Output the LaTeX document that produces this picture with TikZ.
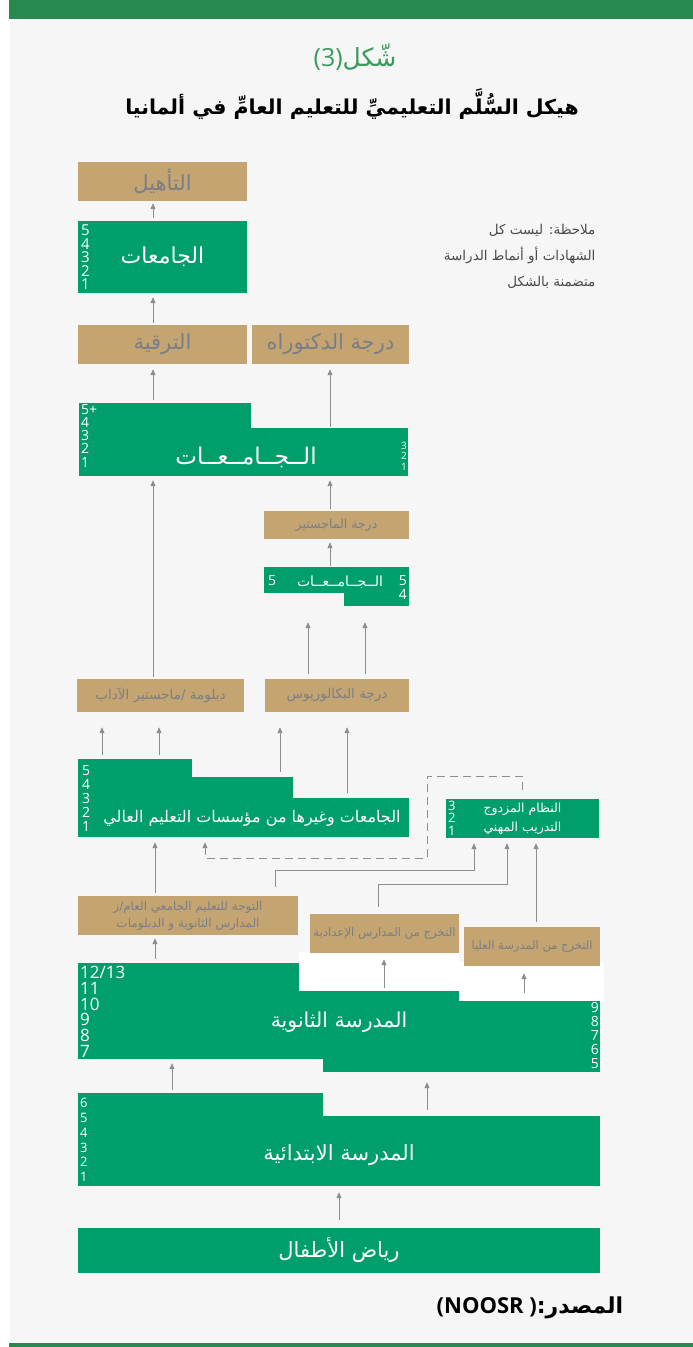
\documentclass[tikz,border=0pt]{standalone}
\usepackage{fontspec}
\usetikzlibrary{arrows.meta}
\TeXXeTstate=1
\newfontfamily\arabicfont[Script=Arabic]{DejaVu Sans}
\newfontfamily\numfont{Open Sans}
\newcommand{\artxt}[1]{{\arabicfont\beginR #1\endR}}
\definecolor{pagegrey}{HTML}{F6F6F6}
\definecolor{bargreen}{HTML}{288A4F}
\definecolor{titlegreen}{HTML}{3C9A5C}
\definecolor{unigreen}{HTML}{009E6B}
\definecolor{tan}{HTML}{C4A571}
\definecolor{tantext}{HTML}{7A7E86}
\definecolor{arrowgrey}{HTML}{8E8E8E}
\definecolor{notegrey}{HTML}{4A4A4A}
\begin{document}
\begin{tikzpicture}[x=1pt, y=-1pt,
	gbox/.style={fill=unigreen, text=white, inner sep=0pt},
	tbox/.style={fill=tan, text=tantext, inner sep=0pt},
	wbox/.style={fill=white, inner sep=0pt},
	nums/.style={text=white, inner sep=0pt, align=left, anchor=north west},
	numsr/.style={text=white, inner sep=0pt, align=right, anchor=north east},
	arr/.style={draw=arrowgrey, line width=1pt, -{Triangle[length=6pt,width=5pt]}},
	dasharr/.style={arr, dash pattern=on 8pt off 5pt}]
	\useasboundingbox (0,0) rectangle (693,1347);
	\fill[white] (0,0) rectangle (693,1347);
	\fill[pagegrey] (10,19) rectangle (693,1343);
	\fill[bargreen] (9,0) rectangle (693,19);
	\fill[bargreen] (9,1343) rectangle (693,1347);

	\node (fig) at (355,57) [text=titlegreen, font=\fontsize{25}{25}\selectfont] {{\numfont(3)}\artxt{شّكل}};
	\node (head) at (352,104) [font=\bfseries\fontsize{20.5}{20.5}\selectfont] {\artxt{هيكل السُّلَّم التعليميِّ للتعليم العامِّ في ألمانيا}};
	\node (note) at (599,256) [anchor=east, text=notegrey, align=right, font=\fontsize{13.5}{26}\selectfont] {\artxt{ملاحظة: ليست كل}\\\artxt{الشهادات أو أنماط الدراسة}\\\artxt{متضمنة بالشكل}};

	\node (tah) at (162.5,181.5)	[tbox, minimum width=169pt, minimum height=39pt, font=\fontsize{21}{21}\selectfont]	{\artxt{التأهيل}};
	\node (jam1) at (162.5,257)	[gbox, minimum width=169pt, minimum height=72pt, font=\fontsize{22}{22}\selectfont]	{\artxt{الجامعات}};
	\node (jam1n) at (81,225)	[nums, font=\numfont\fontsize{15}{13.4}\selectfont]	{5\\4\\3\\2\\1};

	\node (tarq) at (162.5,344.5)	[tbox, minimum width=169pt, minimum height=39pt, font=\fontsize{21}{21}\selectfont]	{\artxt{الترقية}};
	\node (dok) at (330.5,344.5)	[tbox, minimum width=157pt, minimum height=39pt, font=\fontsize{21}{21}\selectfont]	{\artxt{درجة الدكتوراه}};

	\node (jam2a) at (165,439.5)	[gbox, minimum width=172pt, minimum height=73pt]	{};
	\node (jam2b) at (329,452)	[gbox, minimum width=158pt, minimum height=48pt]	{};
	\node (jam2) at (246,457)	[text=white, font=\fontsize{23}{23}\selectfont]	{\artxt{الــجــامــعــات}};
	\node (jam2n) at (81,404)	[nums, font=\numfont\fontsize{14}{13.2}\selectfont]	{5+\\4\\3\\2\\1};
	\node (jam2m) at (407,442)	[numsr, font=\numfont\fontsize{10}{10.5}\selectfont]	{3\\2\\1};

	\node (maj) at (336.5,525)	[tbox, minimum width=145pt, minimum height=28pt, font=\fontsize{12.5}{12.5}\selectfont]	{\artxt{درجة الماجستير}};
	\node (jam3a) at (336.5,580)	[gbox, minimum width=145pt, minimum height=26pt]	{};
	\node (jam3b) at (376.5,599)	[gbox, minimum width=65pt, minimum height=14pt]	{};
	\node (jam3) at (340,582)	[text=white, font=\fontsize{14}{14}\selectfont]	{\artxt{الــجــامــعــات}};
	\node (jam3n) at (268,575)	[nums, font=\numfont\fontsize{14}{14}\selectfont]	{5};
	\node (jam3m) at (407,575)	[numsr, font=\numfont\fontsize{14}{14}\selectfont]	{5\\4};

	\node (dip) at (160.5,695.5)	[tbox, minimum width=167pt, minimum height=33pt, font=\fontsize{13.5}{13.5}\selectfont]	{\artxt{دبلومة /ماجستير الآداب}};
	\node (bak) at (337,695.5)	[tbox, minimum width=144pt, minimum height=33pt, font=\fontsize{13.5}{13.5}\selectfont]	{\artxt{درجة البكالوريوس}};

	\node (jam4a) at (134.5,798)	[gbox, minimum width=114pt, minimum height=78pt]	{};
	\node (jam4b) at (241.5,807)	[gbox, minimum width=102pt, minimum height=60pt]	{};
	\node (jam4c) at (350.5,817.5)	[gbox, minimum width=117pt, minimum height=39pt]	{};
	\node (jam4) at (252,818)	[text=white, font=\fontsize{16}{16}\selectfont]	{\artxt{الجامعات وغيرها من مؤسسات التعليم العالي}};
	\node (jam4n) at (82,765)	[nums, font=\numfont\fontsize{14}{14}\selectfont]	{5\\4\\3\\2\\1};

	\node (dual) at (522.5,818.5)	[gbox, minimum width=153pt, minimum height=39pt, align=center, font=\fontsize{12.5}{19}\selectfont]	{\artxt{النظام المزدوج}\\\artxt{التدريب المهني}};
	\node (dualn) at (448,801)	[nums, font=\numfont\fontsize{13}{12.3}\selectfont]	{3\\2\\1};

	\node (sec) at (339,1011)	[gbox, minimum width=522pt, minimum height=96pt]	{};
	\node (seclow) at (461.5,1065)	[gbox, minimum width=277pt, minimum height=14pt]	{};
	\node (wht1) at (379,971.5)	[wbox, minimum width=160pt, minimum height=39pt]	{};
	\node (wht2) at (531.5,981.5)	[wbox, minimum width=145pt, minimum height=39pt]	{};
	\node (secl) at (339,1022)	[text=white, font=\fontsize{20.5}{20.5}\selectfont]	{\artxt{المدرسة الثانوية}};
	\node (secn) at (80,966)	[nums, font=\numfont\fontsize{17}{15.8}\selectfont]	{12/13\\11\\10\\9\\8\\7};
	\node (secm) at (599,1002)	[numsr, font=\numfont\fontsize{14}{14}\selectfont]	{9\\8\\7\\6\\5};

	\node (taw) at (188,915.5)	[tbox, minimum width=220pt, minimum height=39pt, align=center, font=\fontsize{12}{17}\selectfont]	{\artxt{التوجة للتعليم الجامعي العام/ز}\\\artxt{المدارس الثانوية و الدبلومات}};
	\node (idad) at (384.5,933.5)	[tbox, minimum width=149pt, minimum height=39pt, font=\fontsize{11.7}{11.7}\selectfont]	{\artxt{التخرج من المدارس الإعدادية}};
	\node (ulya) at (532,946.5)	[tbox, minimum width=136pt, minimum height=39pt, font=\fontsize{11.5}{11.5}\selectfont]	{\artxt{التخرج من المدرسة العليا}};

	\node (prima) at (200.5,1105)	[gbox, minimum width=245pt, minimum height=24pt]	{};
	\node (primb) at (339,1151)	[gbox, minimum width=522pt, minimum height=70pt]	{};
	\node (prim) at (339,1155)	[text=white, font=\fontsize{21}{21}\selectfont]	{\artxt{المدرسة الابتدائية}};
	\node (primn) at (80,1098)	[nums, font=\numfont\fontsize{13}{14.8}\selectfont]	{6\\5\\4\\3\\2\\1};

	\node (kg) at (339,1250.5)	[gbox, minimum width=522pt, minimum height=45pt, font=\fontsize{21}{21}\selectfont]	{\artxt{رياض الأطفال}};

	\node (src) at (530,1308)	[font=\bfseries\fontsize{22}{22}\selectfont]	{{\numfont\bfseries (NOOSR )}\artxt{المصدر:}};

	\coordinate (cA) at (153,0);
	\coordinate (cB) at (330,0);
	\coordinate (cC) at (308,0);
	\coordinate (cD) at (365,0);
	\coordinate (cE) at (102,0);
	\coordinate (cF) at (159,0);
	\coordinate (cG) at (280,0);
	\coordinate (cH) at (347,0);
	\coordinate (cI) at (155,0);
	\coordinate (cL) at (536,0);
	\coordinate (cM) at (384,0);
	\coordinate (cN) at (524,0);
	\coordinate (cO) at (172,0);
	\coordinate (cP) at (427,0);
	\coordinate (cS) at (522,0);
	\coordinate (cT) at (275,0);
	\coordinate (cU) at (378,0);
	\coordinate (bend1) at (474,870);
	\coordinate (bend2) at (507,884);
	\coordinate (dsh1) at (427,776);
	\coordinate (dsh2) at (205,858);

	\draw[arr, shorten <=3pt, shorten >=2pt] (jam1.north -| cA) -- (tah.south -| cA);
	\draw[arr, shorten <=2pt, shorten >=4pt] (tarq.north -| cA) -- (jam1.south -| cA);
	\draw[arr, shorten <=3pt, shorten >=5pt] (jam2a.north -| cA) -- (tarq.south -| cA);
	\draw[arr, shorten <=1pt, shorten >=5pt] (jam2b.north -| cB) -- (dok.south -| cB);
	\draw[arr, shorten <=2pt, shorten >=4pt] (dip.north -| cA) -- (jam2a.south -| cA);
	\draw[arr, shorten <=2pt, shorten >=4pt] (maj.north -| cB) -- (jam2b.south -| cB);
	\draw[arr, shorten <=1pt, shorten >=3pt] (jam3a.north -| cB) -- (maj.south -| cB);
	\draw[arr, shorten <=5pt, shorten >=29pt] (bak.north -| cC) -- (jam3a.south -| cC);
	\draw[arr, shorten <=5pt, shorten >=16pt] (bak.north -| cD) -- (jam3b.south -| cD);
	\draw[arr, shorten <=4pt, shorten >=15pt] (jam4a.north -| cE) -- (dip.south -| cE);
	\draw[arr, shorten <=4pt, shorten >=15pt] (jam4a.north -| cF) -- (dip.south -| cF);
	\draw[arr, shorten <=5pt, shorten >=15pt] (jam4b.north -| cG) -- (bak.south -| cG);
	\draw[arr, shorten <=5pt, shorten >=15pt] (jam4c.north -| cH) -- (bak.south -| cH);
	\draw[arr, shorten <=3pt, shorten >=5pt] (taw.north -| cI) -- (jam4a.south -| cI);
	\draw[dasharr, shorten <=9pt, shorten >=5pt] (dual.north -| cS) |- (dsh1) |- (dsh2) -- (jam4b.south -| dsh2);
	\draw[arr, shorten <=9pt, shorten >=5pt] (taw.north -| cT) |- (bend1) -- (dual.south -| bend1);
	\draw[arr, shorten <=7pt, shorten >=5pt] (idad.north -| cU) |- (bend2) -- (dual.south -| bend2);
	\draw[arr, shorten <=5pt, shorten >=5pt] (ulya.north -| cL) -- (dual.south -| cL);
	\draw[arr, shorten <=4pt, shorten >=3pt] (sec.north -| cI) -- (taw.south -| cI);
	\draw[arr, shorten <=3pt, shorten >=6pt] (wht1.south -| cM) -- (idad.south -| cM);
	\draw[arr, shorten <=8pt, shorten >=7pt] (wht2.south -| cN) -- (ulya.south -| cN);
	\draw[arr, shorten <=3pt, shorten >=4pt] (prima.north -| cO) -- (sec.south -| cO);
	\draw[arr, shorten <=6pt, shorten >=10pt] (primb.north -| cP) -- (seclow.south -| cP);
	\draw[arr, shorten <=8pt, shorten >=6pt] (kg.north) -- (primb.south);
\end{tikzpicture}
\end{document}
